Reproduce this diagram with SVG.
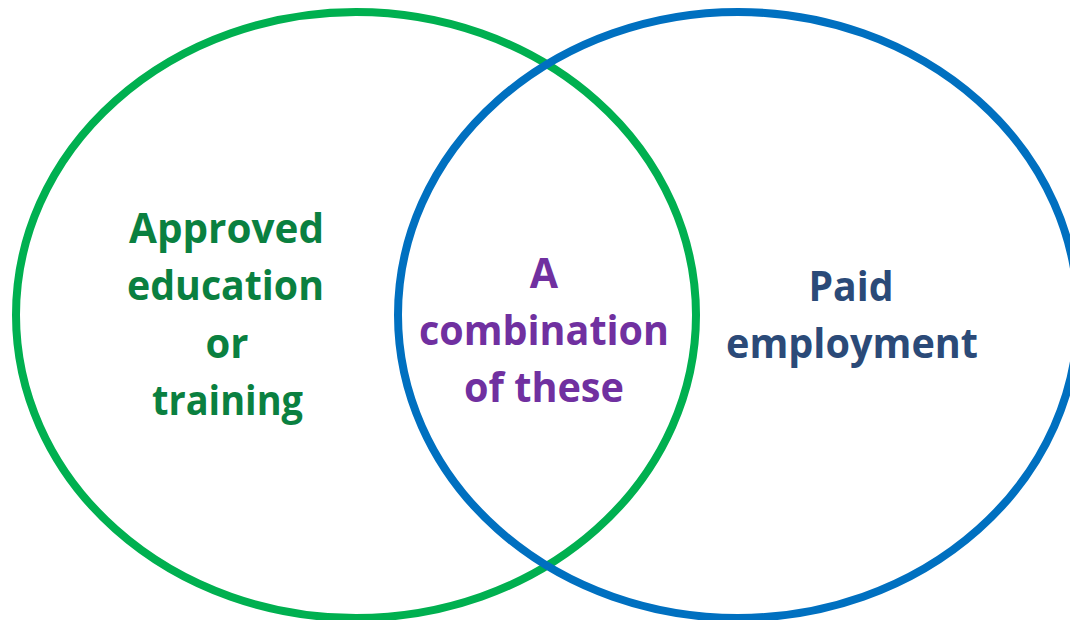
<svg xmlns="http://www.w3.org/2000/svg" width="1070" height="620" viewBox="0 0 1070 620">
<style>
.ring{fill:none;stroke-width:8}
.t{font-family:"Open Sans","Liberation Sans",sans-serif;font-weight:bold;font-size:41px;text-anchor:middle}
.g{fill:#0A8040}
.p{fill:#7030A0}
.n{fill:#2B4A78}
</style>
<rect width="1070" height="620" fill="#ffffff"/>
<g id="connectors"></g>
<g id="education">
<ellipse class="ring" cx="356" cy="315" rx="340" ry="303" stroke="#00B050"/>
<text class="t g" x="226.5" y="243" textLength="195" lengthAdjust="spacingAndGlyphs">Approved</text>
<text class="t g" x="225.5" y="300" textLength="197" lengthAdjust="spacingAndGlyphs">education</text>
<text class="t g" x="227" y="358" textLength="43" lengthAdjust="spacingAndGlyphs">or</text>
<text class="t g" x="227.5" y="415" textLength="151" lengthAdjust="spacingAndGlyphs">training</text>
</g>
<g id="employment">
<ellipse class="ring" cx="738" cy="315" rx="340" ry="303" stroke="#0070C0"/>
<text class="t n" x="851" y="301" textLength="85" lengthAdjust="spacingAndGlyphs">Paid</text>
<text class="t n" x="852" y="358" textLength="252" lengthAdjust="spacingAndGlyphs">employment</text>
</g>
<g id="combination">
<text class="t p" x="544" y="288">A</text>
<text class="t p" x="544" y="345" textLength="250" lengthAdjust="spacingAndGlyphs">combination</text>
<text class="t p" x="544" y="402" textLength="160" lengthAdjust="spacingAndGlyphs">of these</text>
</g>
</svg>
